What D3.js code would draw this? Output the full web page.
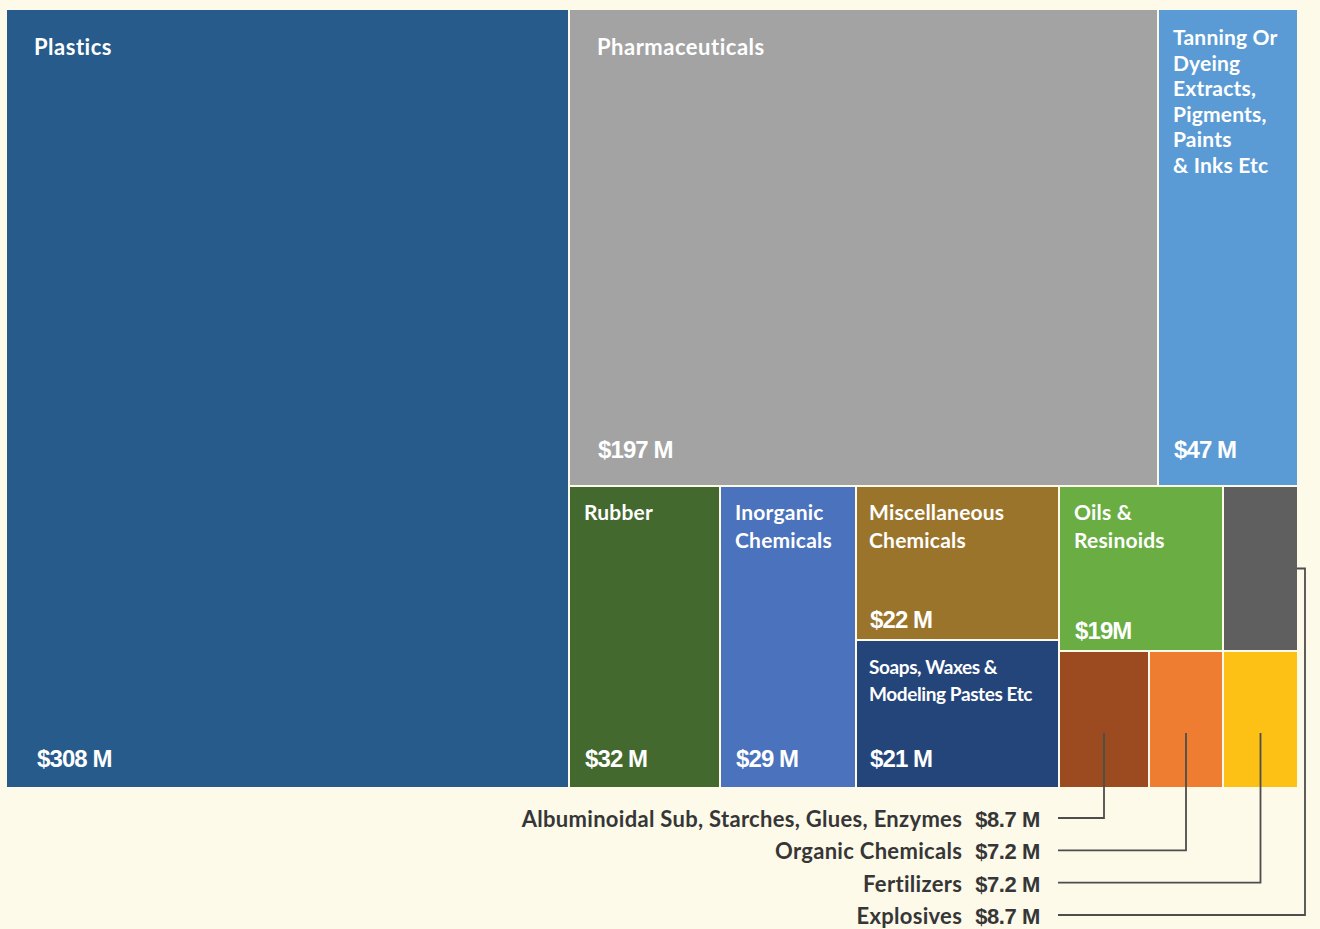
<!DOCTYPE html>
<html>
<head>
<meta charset="utf-8">
<script src="https://cdn.jsdelivr.net/npm/d3@7"></script>
<style>
  html, body { margin: 0; padding: 0; background: #fdfaea; }
  svg { display: block; }
</style>
</head>
<body>
<div id="chart"></div>
<script>
// Chemical exports, $ millions
const names = [
  "Plastics", "Pharmaceuticals", "Tanning Or Dyeing Extracts, Pigments, Paints & Inks Etc",
  "Rubber", "Inorganic Chemicals", "Miscellaneous Chemicals", "Soaps, Waxes & Modeling Pastes Etc",
  "Oils & Resinoids", "Explosives",
  "Albuminoidal Sub, Starches, Glues, Enzymes", "Organic Chemicals", "Fertilizers"
];
const values = [308, 197, 47, 32, 29, 22, 21, 19, 8.7, 8.7, 7.2, 7.2];
const valueLabels = ["$308 M", "$197 M", "$47 M", "$32 M", "$29 M", "$22 M", "$21 M", "$19M", "$8.7 M", "$8.7 M", "$7.2 M", "$7.2 M"];
// how the name wraps inside its cell (empty = called out below the chart)
const nameLines = [
  ["Plastics"], ["Pharmaceuticals"],
  ["Tanning Or", "Dyeing", "Extracts,", "Pigments,", "Paints", "& Inks Etc"],
  ["Rubber"], ["Inorganic", "Chemicals"], ["Miscellaneous", "Chemicals"],
  ["Soaps, Waxes &", "Modeling Pastes Etc"], ["Oils &", "Resinoids"],
  [], [], [], []
];
// nesting used to reproduce the slice-and-dice grouping
const groups = [
  "", "rest/top", "rest/top",
  "rest/bottom", "rest/bottom", "rest/bottom/misc", "rest/bottom/misc",
  "rest/bottom/small/row1", "rest/bottom/small/row1",
  "rest/bottom/small/row2", "rest/bottom/small/row2", "rest/bottom/small/row2"
];
const colors = [
  "#275b8b", "#a3a3a3", "#5b9bd5",
  "#43692f", "#4a72bd", "#9a742a", "#24457a",
  "#6aad43", "#5f5f5f", "#9c4a1f", "#ee7d31", "#fdc115"
];
// order of the call-out labels under the chart
const callouts = ["Albuminoidal Sub, Starches, Glues, Enzymes", "Organic Chemicals", "Fertilizers", "Explosives"];

const W = 1320, H = 929;
const margin = { top: 10, left: 7, right: 23, bottom: 142 };
const innerH = H - margin.top - margin.bottom;

// build nested tree from the group paths
const root = { name: "root", children: [] };
names.forEach((n, i) => {
  let node = root;
  if (groups[i]) {
    groups[i].split("/").forEach(key => {
      let child = node.children.find(c => c.name === key && c.children);
      if (!child) { child = { name: key, children: [] }; node.children.push(child); }
      node = child;
    });
  }
  node.children.push({ name: n, value: values[i], index: i });
});

const hier = d3.hierarchy(root).sum(d => d.value || 0);
d3.treemap()
  .tile(d3.treemapSliceDice)
  .size([W - margin.left - margin.right, innerH])
  .paddingInner(2)
  .round(true)(hier);

const svg = d3.select("#chart").append("svg")
  .attr("width", W).attr("height", H);

const g = svg.append("g").attr("transform", `translate(${margin.left},${margin.top})`);

const leaves = hier.leaves();

const cell = g.selectAll("g.cell")
  .data(leaves)
  .enter()
  .append("g")
  .attr("class", "cell");

cell.append("rect")
  .attr("x", d => d.x0)
  .attr("y", d => d.y0)
  .attr("width", d => d.x1 - d.x0)
  .attr("height", d => d.y1 - d.y0)
  .attr("fill", d => colors[d.data.index]);

const isBig = d => (d.x1 - d.x0) > 400;
const inset = d => isBig(d) ? 27 : (d.x1 - d.x0) > 180 ? 12 : 14;

// names
cell.each(function (d) {
  const lines = nameLines[d.data.index];
  if (!lines.length) return;
  const big = isBig(d);
  const narrow = d.data.name.startsWith("Soaps");
  const many = lines.length > 2;
  const fs = narrow ? 19 : big ? 22 : 21;
  const t = d3.select(this).append("text")
    .attr("x", d.x0 + inset(d))
    .attr("y", d.y0 + (big ? 45 : many ? 35 : 33))
    .attr("fill", "#fff")
    .style("font-family", "Lato, 'Open Sans', sans-serif")
    .style("font-weight", 700)
    .style("font-size", fs + "px")
    .style("letter-spacing", narrow ? "-0.4px" : big ? "0.5px" : "0.2px");
  lines.forEach((l, j) => {
    t.append("tspan")
      .attr("x", d.x0 + inset(d))
      .attr("dy", j ? (many ? 25.6 : narrow ? 27 : 28) : 0)
      .text(l);
  });
});

// values inside the cells
cell.filter(d => nameLines[d.data.index].length)
  .append("text")
  .attr("x", d => d.x0 + inset(d) + (d.x0 < 1 ? 3 : 1))
  .attr("y", d => d.y1 - (d.y1 >= innerH - 1 ? 20 : (d.y1 - d.y0) > 300 ? 27 : 11))
  .attr("fill", "#fff")
  .style("font-family", "'Liberation Sans', Arial, sans-serif")
  .style("font-weight", 700)
  .style("font-size", "24px")
  .style("letter-spacing", "-0.9px")
  .text(d => valueLabels[d.data.index]);

// call-outs for the small cells
const rowY = d3.scalePoint().domain(callouts).range([818, 915]);
const textRight = 1040 - margin.left;
const lineStart = 1058 - margin.left;
const outerX = 1305 - margin.left;

callouts.forEach(name => {
  const leaf = leaves.find(l => l.data.name === name);
  const i = leaf.data.index;
  const y = rowY(name) - margin.top;
  const t = g.append("text")
    .attr("x", textRight)
    .attr("y", y + 9)
    .attr("text-anchor", "end")
    .attr("fill", "#363636")
    .style("font-family", "Lato, sans-serif")
    .style("font-weight", 700)
    .style("font-size", "22px")
    .style("letter-spacing", "0.3px");
  t.append("tspan").text(name);
  t.append("tspan")
    .attr("dx", 13)
    .style("font-family", "'Liberation Sans', Arial, sans-serif")
    .style("letter-spacing", "-0.4px")
    .text(valueLabels[i]);

  const cx = (leaf.x0 + leaf.x1) / 2;
  let pts;
  if (leaf.y1 >= innerH - 1) {
    // cell on the bottom row: line runs right then up into the cell
    const topY = leaf.y0 + (leaf.y1 - leaf.y0) * 0.6;
    pts = [[lineStart, y], [cx, y], [cx, topY]];
  } else {
    // cell above: line runs around the right edge
    const cy = (leaf.y0 + leaf.y1) / 2;
    pts = [[lineStart, y], [outerX, y], [outerX, cy], [leaf.x1, cy]];
  }
  g.append("path")
    .attr("d", d3.line()(pts))
    .attr("fill", "none")
    .attr("stroke", "#4d4d4d")
    .attr("stroke-width", 1.8);
});
</script>
</body>
</html>
